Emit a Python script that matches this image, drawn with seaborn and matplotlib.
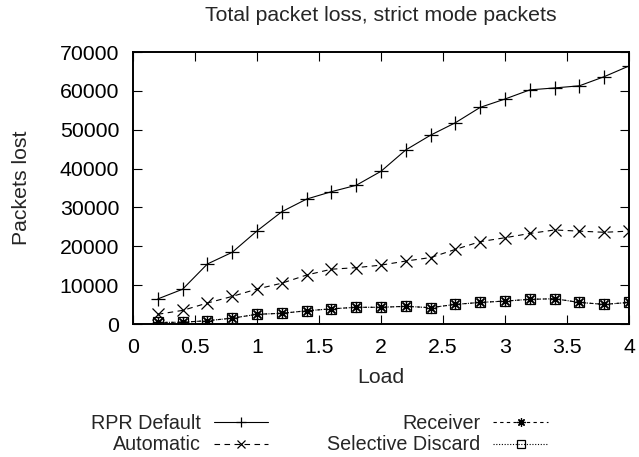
import matplotlib
matplotlib.use("Agg")
import matplotlib.pyplot as plt
import seaborn as sns
import pandas as pd

load = [0.2, 0.4, 0.6, 0.8, 1.0, 1.2, 1.4, 1.6, 1.8, 2.0,
        2.2, 2.4, 2.6, 2.8, 3.0, 3.2, 3.4, 3.6, 3.8, 4.0]
rpr_default = [6450, 8950, 15450, 18450, 23950, 28900, 32150, 34050, 35700, 39300,
               44800, 48600, 51800, 55750, 57900, 60250, 60750, 61300, 63650, 66400]
automatic = [2500, 3500, 5400, 7100, 9000, 10500, 12600, 14100, 14500, 15150,
             16200, 17100, 19200, 21200, 22200, 23300, 24200, 23900, 23600, 23900]
receiver = [400, 450, 850, 1500, 2500, 2750, 3400, 3900, 4300, 4300,
            4550, 4200, 5050, 5550, 5900, 6350, 6500, 5550, 5050, 5550]
selective_discard = [400, 450, 850, 1500, 2500, 2750, 3400, 3900, 4300, 4300,
                     4550, 4200, 5050, 5550, 5900, 6350, 6500, 5550, 5050, 5550]

series_names = ["RPR Default", "Automatic", "Receiver", "Selective Discard"]
xticks = [0, 0.5, 1, 1.5, 2, 2.5, 3, 3.5, 4]
xticklabels = ["0", "0.5", "1", "1.5", "2", "2.5", "3", "3.5", "4"]
yticks = [0, 10000, 20000, 30000, 40000, 50000, 60000, 70000]

sns.set_theme(style="ticks")
plt.rcParams["font.family"] = ["Liberation Sans", "DejaVu Sans"]
FS = 15.3

fig = plt.figure(figsize=(6.39, 4.57), dpi=100)
ax = fig.add_axes([133 / 639, 1 - 324 / 457, (629 - 133) / 639, (324 - 52) / 457])

values = [rpr_default, automatic, receiver, selective_discard]
styles = [
    dict(marker="+", markersize=9.5, linestyle="-"),
    dict(marker="x", markersize=8, linestyle=(0, (5, 4))),
    dict(marker=(8, 2, 0), markersize=8, linestyle=(0, (3, 3))),
    dict(marker="s", markersize=7.5, linestyle=(0, (1, 1.5))),
]
for name, vals, st in zip(series_names, values, styles):
    df = pd.DataFrame({"Load": load, "Packets lost": vals})
    sns.lineplot(data=df, x="Load", y="Packets lost", ax=ax, color="black",
                 linewidth=0.8, markeredgewidth=0.9, markeredgecolor="black",
                 markerfacecolor="none", label=name, **st)

ax.set_xlim(0, 4)
ax.set_ylim(0, 70000)
ax.set_xticks(xticks)
ax.set_xticklabels(xticklabels)
ax.set_yticks(yticks)
ax.set_yticklabels([str(v) for v in yticks])
ax.tick_params(direction="in", length=6.5, width=0.8, top=True, right=True,
               labelsize=FS, pad=10, colors="black")
for sp in ax.spines.values():
    sp.set_visible(True)
    sp.set_linewidth(1.4)
    sp.set_color("black")
ax.set_xlabel("Load", fontsize=FS, labelpad=8)
ax.set_ylabel("Packets lost", fontsize=FS, labelpad=21)
ax.set_title("Total packet loss, strict mode packets", fontsize=FS, pad=22)

handles, labels = ax.get_legend_handles_labels()
ax.get_legend().remove()
fig.legend(handles, labels,
           loc="center", bbox_to_anchor=(0.5, 1 - 434 / 457), ncol=2,
           frameon=False, markerfirst=False, handlelength=2.75,
           handletextpad=0.65, columnspacing=3.0, labelspacing=0.15,
           borderpad=0, markerscale=0.75, fontsize=14.2)

fig.savefig("out.png", dpi=100)
